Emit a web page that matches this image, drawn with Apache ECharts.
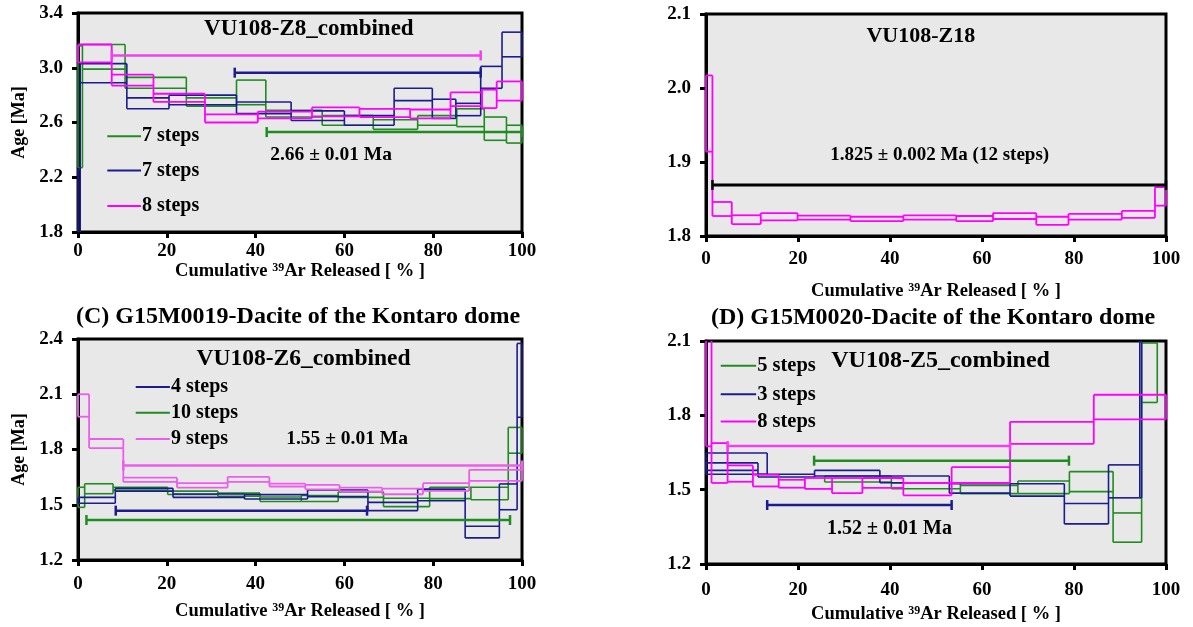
<!DOCTYPE html>
<html><head><meta charset="utf-8">
<script src="https://cdn.jsdelivr.net/npm/echarts@6/dist/echarts.min.js"></script>
<style>html,body{margin:0;padding:0;background:#fff}#c{width:1193px;height:627px}</style>
</head><body><div id="c"></div>
<script>
// ---------- Panel A : VU108-Z8_combined ----------
const aGreenX  = [0, 1, 10.6, 24.4, 35.7, 42.3, 55, 66.5, 76.5, 85.3, 91.5, 96.5, 100];
const aGreenLo = [2.27, 2.99, 2.85, 2.72, 2.73, 2.64, 2.58, 2.55, 2.58, 2.57, 2.47, 2.45];
const aGreenHi = [3.16, 3.17, 2.93, 2.78, 2.91, 2.69, 2.65, 2.62, 2.65, 2.70, 2.64, 2.58];
const aBlueX   = [0, 0.5, 11, 20.5, 35.7, 48, 60, 71.2, 79.8, 85.1, 90.7, 95.5, 100];
const aBlueLo  = [1.75, 2.89, 2.70, 2.73, 2.665, 2.615, 2.58, 2.76, 2.63, 2.65, 2.85, 3.08];
const aBlueHi  = [2.26, 3.03, 2.78, 2.80, 2.75, 2.685, 2.65, 2.85, 2.77, 2.74, 3.01, 3.26];
const aPinkX   = [0, 7.6, 17, 28.6, 40.5, 52.7, 63.4, 74.8, 83.9, 91, 94.3, 100];
const aPinkLo  = [3.04, 2.87, 2.75, 2.60, 2.63, 2.645, 2.64, 2.63, 2.72, 2.705, 2.76];
const aPinkHi  = [3.17, 2.95, 2.81, 2.66, 2.68, 2.71, 2.70, 2.695, 2.82, 2.84, 2.90];
const aPlateau = {green: [42.5, 100, 2.53], blue: [35.3, 90.7, 2.964], pink: [7.6, 90.7, 3.09]};
const aLegend  = ['7 steps', '7 steps', '8 steps'];

// ---------- Panel B : VU108-Z18 ----------
const bPinkX  = [0, 1.4, 5.6, 11.9, 19.9, 31.4, 42.9, 54.4, 62.4, 71.8, 78.8, 90.4, 97.6, 100];
const bPinkLo = [1.914, 1.827, 1.816, 1.821, 1.822, 1.820, 1.822, 1.820, 1.823, 1.815, 1.822, 1.8245, 1.841];
const bPinkHi = [2.017, 1.846, 1.828, 1.831, 1.8275, 1.826, 1.828, 1.827, 1.831, 1.826, 1.830, 1.834, 1.866];
const bPlateau = [1.4, 100, 1.869];

// ---------- Panel C : VU108-Z6_combined ----------
const cBlueX   = [0, 8.4, 21.4, 37.5, 51.7, 65.3, 76.5, 87.2, 94.9, 98.9, 100];
const cBlueLo  = [1.508, 1.573, 1.54, 1.531, 1.544, 1.468, 1.522, 1.32, 1.473, 1.975];
const cBlueHi  = [1.54, 1.589, 1.558, 1.555, 1.58, 1.513, 1.585, 1.383, 1.613, 2.376];
const cGreenX  = [0, 1.5, 7.9, 20.2, 31.5, 41, 50.3, 58.6, 68.8, 79.2, 88.5, 96.9, 100];
const cGreenLo = [1.486, 1.56, 1.578, 1.556, 1.546, 1.518, 1.518, 1.54, 1.49, 1.533, 1.527, 1.78];
const cGreenHi = [1.595, 1.614, 1.595, 1.574, 1.563, 1.542, 1.55, 1.57, 1.535, 1.595, 1.595, 1.92];
const cPinkX   = [0, 2.5, 10.2, 22.3, 33.7, 43.1, 51.2, 58.9, 68.5, 77.7, 88.1, 100];
const cPinkLo  = [1.978, 1.808, 1.624, 1.593, 1.624, 1.599, 1.584, 1.572, 1.557, 1.575, 1.63];
const cPinkHi  = [2.10, 1.857, 1.647, 1.617, 1.651, 1.615, 1.608, 1.593, 1.588, 1.617, 1.689];
const cPlateau = {blue: [8.5, 65.1, 1.468], green: [1.9, 97.3, 1.417], pink: [10.2, 100, 1.713]};
const cLegend  = ['4 steps', '10 steps', '9 steps'];

// ---------- Panel D : VU108-Z5_combined ----------
const dGreenX  = [25.8, 40.3, 55.3, 67.8, 79, 88.5, 94.7, 98.1];
const dGreenLo = [1.531, 1.504, 1.484, 1.484, 1.492, 1.288, 1.852];
const dGreenHi = [1.555, 1.527, 1.517, 1.535, 1.573, 1.406, 2.092];
const dBlueX   = [0, 11.3, 23.6, 37.8, 52.9, 66.1, 77.9, 87.5, 94.3, 94.7];
const dBlueLo  = [1.578, 1.551, 1.555, 1.528, 1.486, 1.474, 1.362, 1.467, 1.467];
const dBlueHi  = [1.608, 1.562, 1.578, 1.555, 1.524, 1.524, 1.444, 1.60, 2.3];
const dBlue2X  = [0, 13.3];
const dBlue2Lo = [1.562];
const dBlue2Hi = [1.648];
const dPinkX   = [0, 1.2, 4.7, 10.2, 15.8, 21.5, 27.4, 34, 42.9, 53.4, 66.1, 84.3, 100];
const dPinkLo  = [1.675, 1.527, 1.532, 1.513, 1.508, 1.503, 1.486, 1.507, 1.477, 1.527, 1.685, 1.784];
const dPinkHi  = [2.3, 1.688, 1.598, 1.56, 1.54, 1.547, 1.547, 1.547, 1.527, 1.591, 1.774, 1.883];
const dPlateau = {green: [23.5, 78.9, 1.617], blue: [13.3, 53.4, 1.438], pink: [4.7, 66.1, 1.676]};
const dLegend  = ['5 steps', '3 steps', '8 steps'];

const titles = ['VU108-Z8_combined', 'VU108-Z18', 'VU108-Z6_combined', 'VU108-Z5_combined'];
const ageTexts = ['2.66 ± 0.01 Ma', '1.825 ± 0.002 Ma (12 steps)', '1.55 ± 0.01 Ma', '1.52 ± 0.01 Ma'];
const panelTitles = ['(C) G15M0019-Dacite of the Kontaro dome', '(D) G15M0020-Dacite of the Kontaro dome'];

// ---------- styling ----------
const FONT = "'Liberation Serif','Times New Roman',serif";
const GREEN = '#1f8c1f', BLUE = '#1c1c8e', PINK = '#ff00ff', PINKC = '#ee5cee', BLACK = '#000';

const grids = [
  {left: 78, top: 13, width: 444, height: 219},
  {left: 706, top: 14, width: 460, height: 222},
  {left: 78, top: 339, width: 444, height: 221},
  {left: 706, top: 341, width: 460, height: 223}
].map(g => Object.assign(g, {show: true, backgroundColor: '#e8e8e8', borderColor: '#000', borderWidth: 3}));

const yRanges = [[1.8, 3.4, 0.4], [1.8, 2.1, 0.1], [1.2, 2.4, 0.3], [1.2, 2.1, 0.3]];
const xLabelMargins = [10, 14, 15, 17];
const xNameGaps = [27, 46, 42, 41];

const xAxes = grids.map((g, i) => ({
  gridIndex: i, type: 'value', min: 0, max: 100, interval: 20,
  axisLine: {show: true, onZero: false, lineStyle: {color: '#000', width: 3}},
  axisTick: {show: true, inside: false, length: 6, lineStyle: {color: '#000', width: 3}},
  axisLabel: {color: '#000', fontFamily: FONT, fontWeight: 'bold', fontSize: 19, margin: xLabelMargins[i]},
  splitLine: {show: false},
  name: '{n|Cumulative }{s|39}{n|Ar Released [ % ]}',
  nameLocation: 'middle', nameGap: xNameGaps[i],
  nameTextStyle: {rich: {
    n: {fontFamily: FONT, fontWeight: 'bold', fontSize: 18.5, color: '#000'},
    s: {fontFamily: FONT, fontWeight: 'bold', fontSize: 12, color: '#000', verticalAlign: 'top', padding: [0, 0, 7, 0]}
  }}
}));
const yAxes = grids.map((g, i) => ({
  gridIndex: i, type: 'value', min: yRanges[i][0], max: yRanges[i][1], interval: yRanges[i][2],
  axisLine: {show: true, onZero: false, lineStyle: {color: '#000', width: 3}},
  axisTick: {show: true, inside: false, length: 6, lineStyle: {color: '#000', width: 3}},
  axisLabel: {color: '#000', fontFamily: FONT, fontWeight: 'bold', fontSize: 19, margin: 15,
    formatter: v => v.toFixed(1)},
  splitLine: {show: false},
  name: (i === 0 || i === 2) ? 'Age [Ma]' : '',
  nameLocation: 'middle', nameGap: 50, nameRotate: 90,
  nameTextStyle: {fontFamily: FONT, fontWeight: 'bold', fontSize: 18, color: '#000'}
}));

// step spectrum: top/bottom edge of every step, with vertical joins spanning both neighbouring steps
function spectrumSeries(gi, xs, lo, hi, color, lw) {
  const data = [];
  const n = lo.length;
  for (let i = 0; i < n; i++) {
    const pLo = i > 0 ? lo[i - 1] : lo[i], pHi = i > 0 ? hi[i - 1] : hi[i];
    data.push([xs[i], xs[i + 1], lo[i], hi[i], pLo, pHi, i === n - 1 ? 1 : 0]);
  }
  return {
    type: 'custom', xAxisIndex: gi, yAxisIndex: gi, data, silent: true, animation: false,
    encode: {x: [0, 1], y: [2, 3]},
    renderItem(params, api) {
      const cs = params.coordSys;
      const top = cs.y, bot = cs.y + cs.height, L = cs.x, R = cs.x + cs.width;
      const cy = v => Math.min(bot, Math.max(top, v));
      const cx = v => Math.min(R, Math.max(L, v));
      const x0 = cx(api.coord([api.value(0), 0])[0]);
      const x1 = cx(api.coord([api.value(1), 0])[0]);
      const yLo = api.coord([0, api.value(2)])[1];
      const yHi = api.coord([0, api.value(3)])[1];
      const ypLo = api.coord([0, api.value(4)])[1];
      const ypHi = api.coord([0, api.value(5)])[1];
      const st = {stroke: color, lineWidth: lw, fill: 'none'};
      const ch = [];
      [yLo, yHi].forEach(y => {
        if (y >= top - 0.5 && y <= bot + 0.5) ch.push({type: 'line', shape: {x1: x0, y1: y, x2: x1, y2: y}, style: st});
      });
      const vA = cy(Math.max(yLo, ypLo)), vB = cy(Math.min(yHi, ypHi));
      ch.push({type: 'line', shape: {x1: x0, y1: vA, x2: x0, y2: vB}, style: st});
      if (api.value(6) === 1) ch.push({type: 'line', shape: {x1: x1, y1: cy(yLo), x2: x1, y2: cy(yHi)}, style: st});
      return {type: 'group', children: ch};
    }
  };
}
function plateauSeries(gi, p, color, lw) {
  return {
    type: 'custom', xAxisIndex: gi, yAxisIndex: gi, data: [p], silent: true, animation: false,
    encode: {x: [0, 1], y: 2},
    renderItem(params, api) {
      const a = api.coord([api.value(0), api.value(2)]);
      const b = api.coord([api.value(1), api.value(2)]);
      return {type: 'group', children: [
        {type: 'line', shape: {x1: a[0], y1: a[1], x2: b[0], y2: b[1]}, style: {stroke: color, lineWidth: lw}},
        {type: 'line', shape: {x1: a[0], y1: a[1] - 5, x2: a[0], y2: a[1] + 5}, style: {stroke: color, lineWidth: 2.5}},
        {type: 'line', shape: {x1: b[0], y1: b[1] - 5, x2: b[0], y2: b[1] + 5}, style: {stroke: color, lineWidth: 2.5}}
      ]};
    }
  };
}

const series = [
  spectrumSeries(0, aGreenX, aGreenLo, aGreenHi, GREEN, 1.6),
  spectrumSeries(0, aBlueX, aBlueLo, aBlueHi, BLUE, 1.6),
  spectrumSeries(0, aPinkX, aPinkLo, aPinkHi, PINK, 1.8),
  plateauSeries(0, aPlateau.green, GREEN, 2.5),
  plateauSeries(0, aPlateau.blue, BLUE, 2.5),
  plateauSeries(0, aPlateau.pink, '#f040f0', 2.5),
  spectrumSeries(1, bPinkX, bPinkLo, bPinkHi, PINK, 1.8),
  plateauSeries(1, bPlateau, BLACK, 3),
  spectrumSeries(2, cGreenX, cGreenLo, cGreenHi, GREEN, 1.6),
  spectrumSeries(2, cBlueX, cBlueLo, cBlueHi, BLUE, 1.6),
  spectrumSeries(2, cPinkX, cPinkLo, cPinkHi, PINKC, 1.8),
  plateauSeries(2, cPlateau.blue, BLUE, 2.5),
  plateauSeries(2, cPlateau.green, GREEN, 2.5),
  plateauSeries(2, cPlateau.pink, PINKC, 2.5),
  spectrumSeries(3, dGreenX, dGreenLo, dGreenHi, GREEN, 1.6),
  spectrumSeries(3, dBlueX, dBlueLo, dBlueHi, BLUE, 1.6),
  spectrumSeries(3, dBlue2X, dBlue2Lo, dBlue2Hi, BLUE, 1.6),
  spectrumSeries(3, dPinkX, dPinkLo, dPinkHi, PINK, 1.8),
  plateauSeries(3, dPlateau.green, GREEN, 2.5),
  plateauSeries(3, dPlateau.blue, BLUE, 2.5),
  plateauSeries(3, dPlateau.pink, '#f040f0', 2.5)
];

const chart = echarts.init(document.getElementById('c'), null, {renderer: 'canvas'});
chart.setOption({animation: false, backgroundColor: '#fff', grid: grids, xAxis: xAxes, yAxis: yAxes, series});

// ---------- annotations placed in data coordinates ----------
const P = (gi, x, y) => chart.convertToPixel({gridIndex: gi}, [x, y]);
const g = [];
function txt(gi, x, y, text, size, align) {
  const p = P(gi, x, y);
  g.push({type: 'text', x: p[0], y: p[1], z: 100, silent: true,
    style: {text, font: `bold ${size}px ${FONT}`, fill: '#000', textAlign: align || 'center', textVerticalAlign: 'middle'}});
}
function legend(gi, x0, x1, ys, labels, colors, size) {
  ys.forEach((y, k) => {
    const a = P(gi, x0, y), b = P(gi, x1, y);
    g.push({type: 'line', z: 100, silent: true, shape: {x1: a[0], y1: a[1], x2: b[0], y2: b[1]}, style: {stroke: colors[k], lineWidth: 2}});
    g.push({type: 'text', x: b[0] + 1, y: b[1], z: 100, silent: true,
      style: {text: labels[k], font: `bold ${size}px ${FONT}`, fill: '#000', textAlign: 'left', textVerticalAlign: 'middle'}});
  });
}
txt(0, 52, 3.28, titles[0], 23);
txt(0, 57, 2.36, ageTexts[0], 19.5);
legend(0, 6.6, 14.2, [2.50, 2.25, 1.99], aLegend, [GREEN, BLUE, PINK], 20);
txt(1, 46.7, 2.07, titles[1], 22);
txt(1, 50.8, 1.91, ageTexts[1], 19);
txt(2, 50.8, 2.29, titles[2], 23.5);
legend(2, 13, 20.7, [2.14, 2.0, 1.857], cLegend, [BLUE, GREEN, PINKC], 20);
txt(2, 60.6, 1.857, ageTexts[2], 19.5);
txt(3, 51, 2.02, titles[3], 24);
legend(3, 3.2, 10.9, [2.0, 1.885, 1.775], dLegend, [GREEN, BLUE, PINK], 20.5);
txt(3, 39.9, 1.34, ageTexts[3], 20);
g.push({type: 'text', x: 298, y: 317, z: 100, silent: true,
  style: {text: panelTitles[0], font: `bold 24px ${FONT}`, fill: '#000', textAlign: 'center', textVerticalAlign: 'middle'}});
g.push({type: 'text', x: 933, y: 318, z: 100, silent: true,
  style: {text: panelTitles[1], font: `bold 24px ${FONT}`, fill: '#000', textAlign: 'center', textVerticalAlign: 'middle'}});
chart.setOption({graphic: g});
</script>
</body></html>
